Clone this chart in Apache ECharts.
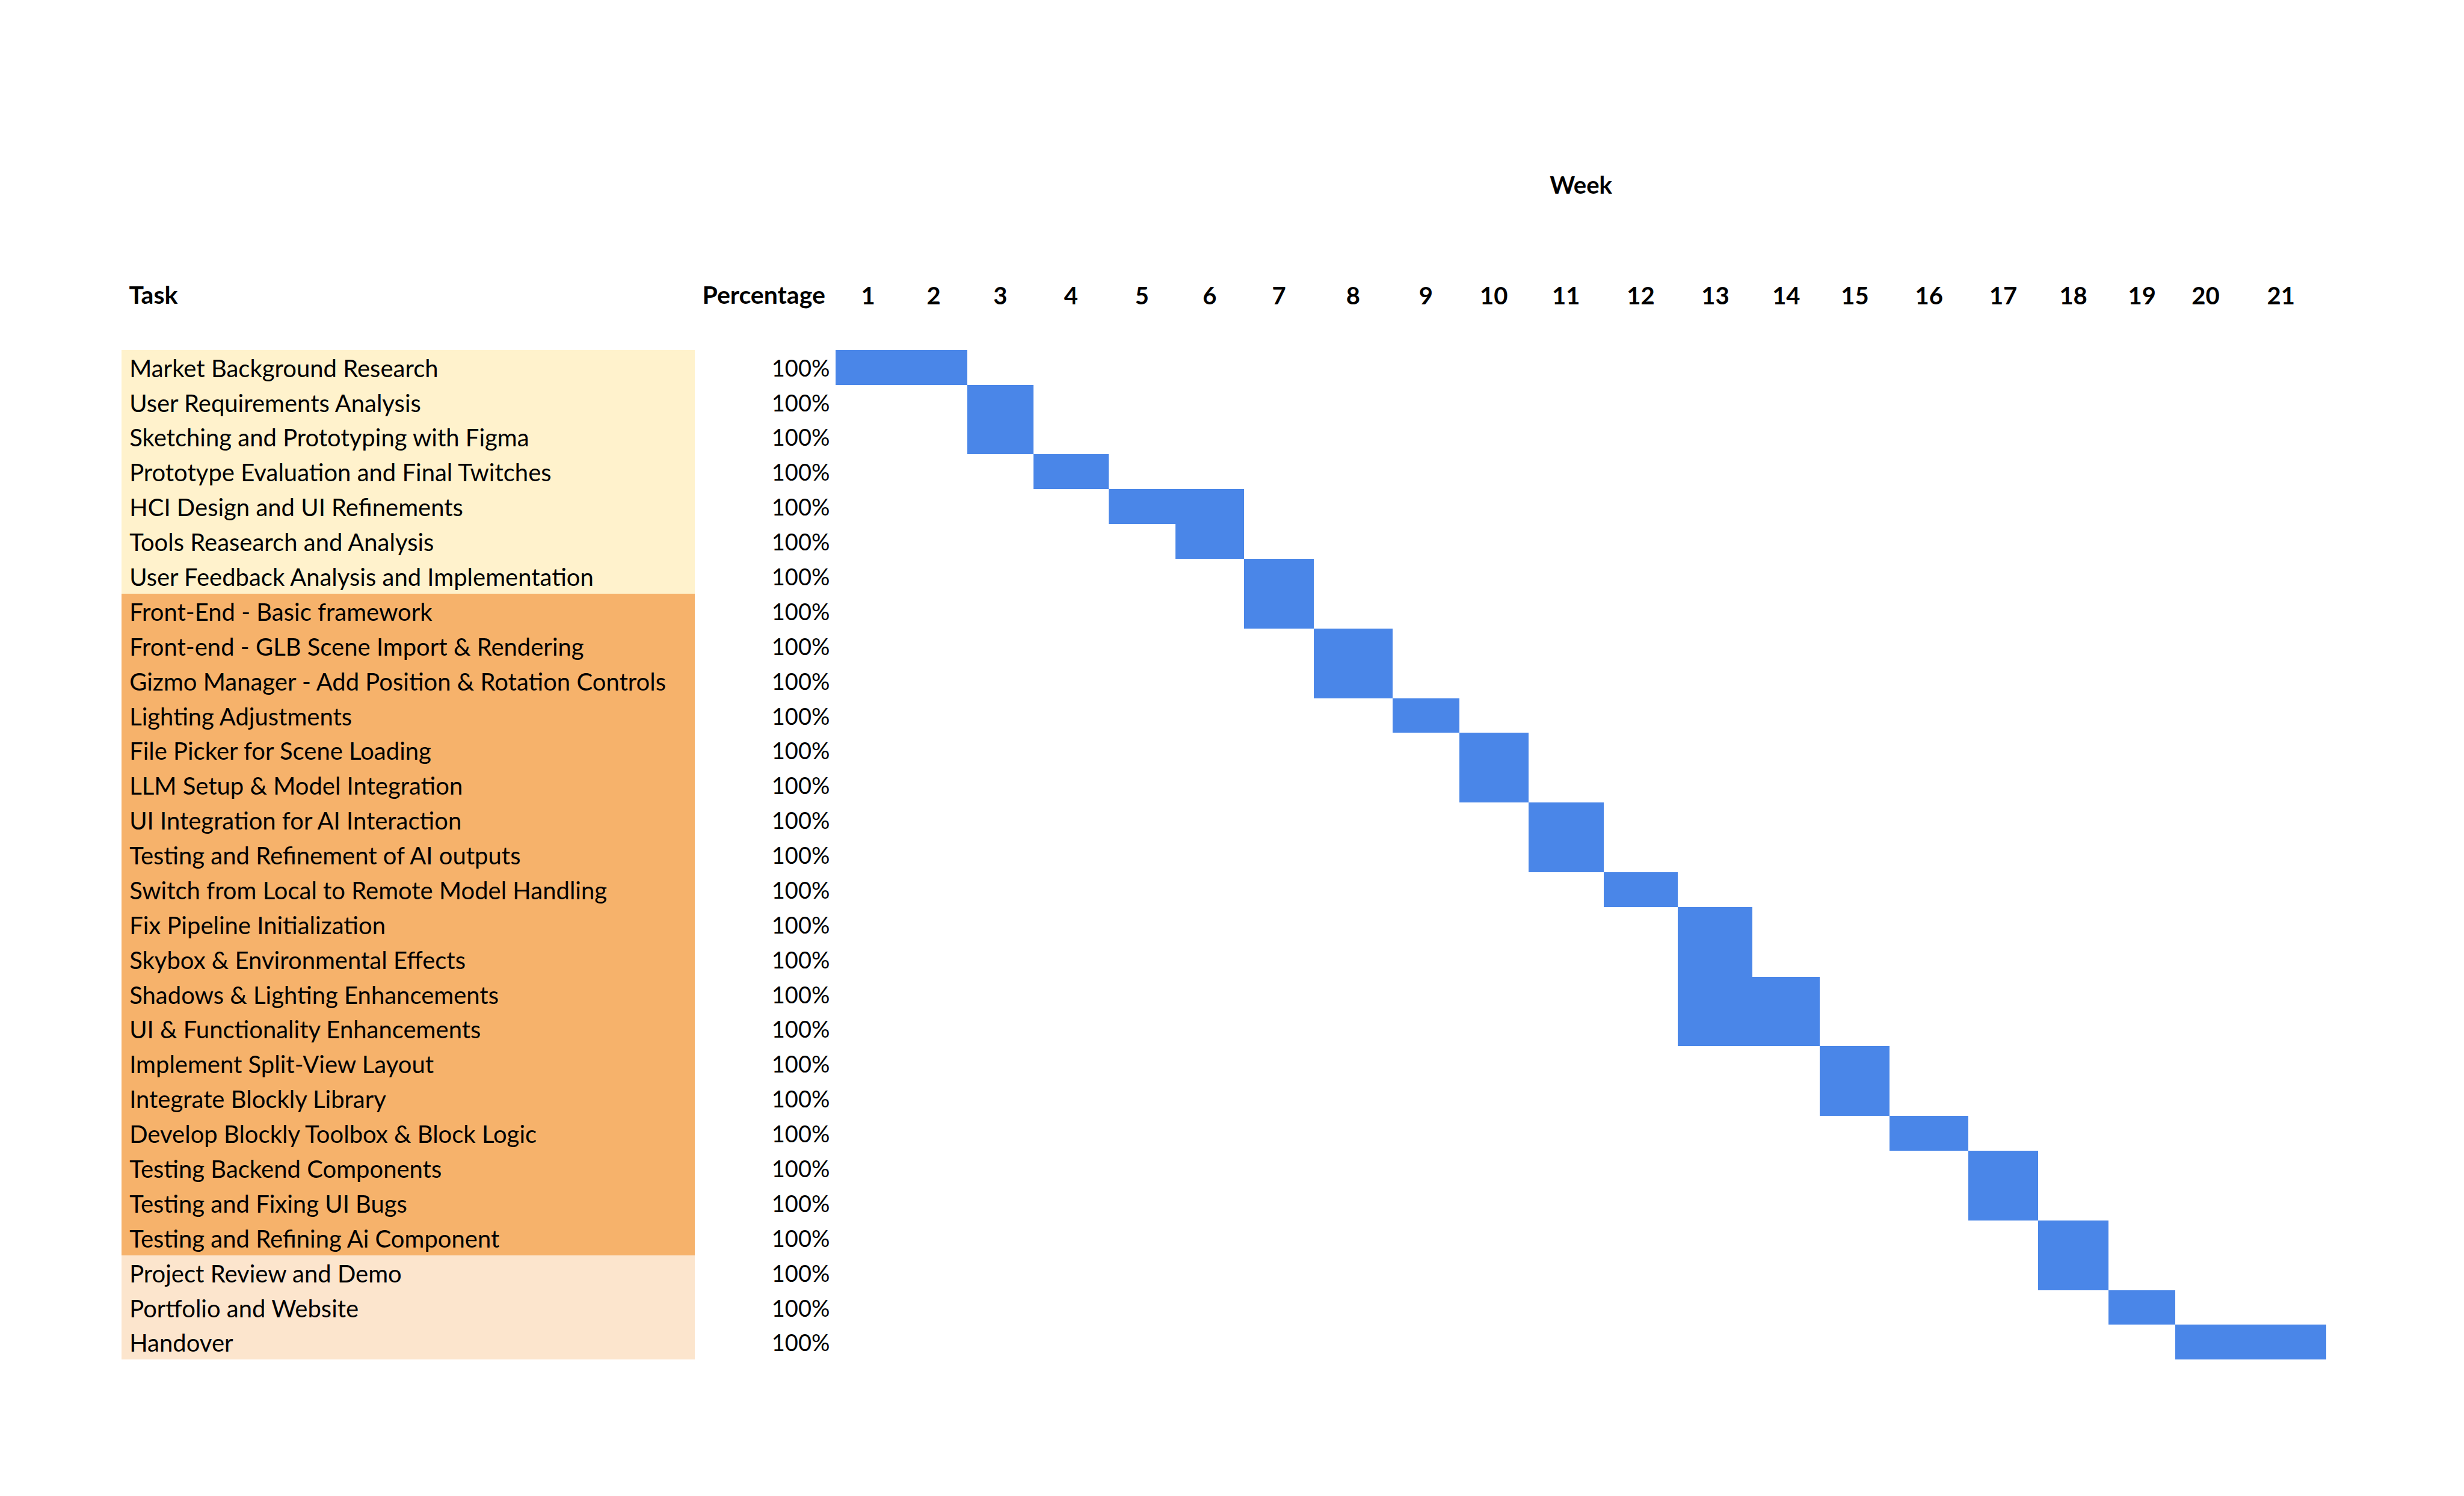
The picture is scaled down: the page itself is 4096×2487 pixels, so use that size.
<!DOCTYPE html>
<html>
<head>
<meta charset="utf-8">
<script src="https://cdn.jsdelivr.net/npm/echarts@6/dist/echarts.min.js"></script>
<style>
html, body { margin: 0; padding: 0; background: #ffffff; }
#chart { width: 4096px; height: 2487px; }
</style>
</head>
<body>
<div id="chart"></div>
<script>
// ---------- data ----------
const tasks = [
  'Market Background Research',
  'User Requirements Analysis',
  'Sketching and Prototyping with Figma',
  'Prototype Evaluation and Final Twitches',
  'HCI Design and UI Refinements',
  'Tools Reasearch and Analysis',
  'User Feedback Analysis and Implementation',
  'Front-End - Basic framework',
  'Front-end - GLB Scene Import & Rendering',
  'Gizmo Manager - Add Position & Rotation Controls',
  'Lighting Adjustments',
  'File Picker for Scene Loading',
  'LLM Setup & Model Integration',
  'UI Integration for AI Interaction',
  'Testing and Refinement of AI outputs',
  'Switch from Local to Remote Model Handling',
  'Fix Pipeline Initialization',
  'Skybox & Environmental Effects',
  'Shadows & Lighting Enhancements',
  'UI & Functionality Enhancements',
  'Implement Split-View Layout',
  'Integrate Blockly Library',
  'Develop Blockly Toolbox & Block Logic',
  'Testing Backend Components',
  'Testing and Fixing UI Bugs',
  'Testing and Refining Ai Component',
  'Project Review and Demo',
  'Portfolio and Website',
  'Handover'
];
const percentages = [100,100,100,100,100,100,100,100,100,100,100,100,100,100,100,100,100,100,100,100,100,100,100,100,100,100,100,100,100];
const startWeek = [1,3,3,4,5,6,7,7,8,8,9,10,10,11,11,12,13,13,13,13,15,15,16,17,17,18,18,19,20];
const endWeek   = [2,3,3,4,6,6,7,7,8,8,9,10,10,11,11,12,13,13,14,14,15,15,16,17,17,18,18,19,21];
const taskPhase = [0,0,0,0,0,0,0,1,1,1,1,1,1,1,1,1,1,1,1,1,1,1,1,1,1,1,2,2,2];
const weekLabels = ['1','2','3','4','5','6','7','8','9','10','11','12','13','14','15','16','17','18','19','20','21'];

// ---------- layout / style ----------
const S = 0.975;
const weekColumnWidths = [110,114,113,128,114,117,119,134,114,118,128,127,127,115,119,134,119,120,114,103,154];
const phaseColors = ['#FFF2CC', '#F6B26B', '#FCE5CD'];
const barColor = '#4A86E8';
const FONT = 'Lato';
const FS_TASK = 40;
const FS_PCT = 38;
const FS_HEAD = 40;

const edges = [0];
weekColumnWidths.forEach(w => edges.push(edges[edges.length - 1] + w));
const totalWidth = edges[edges.length - 1];
const centers = weekColumnWidths.map((w, i) => edges[i] + w / 2);

const tableTop = 596.7 * S;
const tableHeight = (2318.3 - 596.7) * S;

const chart = echarts.init(document.getElementById('chart'), null, { renderer: 'svg' });

const option = {
  backgroundColor: '#ffffff',
  animation: false,
  title: [
    {
      text: 'Task', left: 220 * S, top: 469, padding: 0,
      textStyle: { fontFamily: FONT, fontWeight: 'bold', fontSize: 41, color: '#000' }
    },
    {
      text: 'Percentage', right: 4096 - 1407 * S, top: 469, padding: 0,
      textStyle: { fontFamily: FONT, fontWeight: 'bold', fontSize: 41, color: '#000' }
    }
  ],
  grid: [
    { left: 1425 * S, top: tableTop, width: totalWidth * S, height: tableHeight, containLabel: false },
    { left: 206.7 * S, top: tableTop, width: (1185 - 206.7) * S, height: tableHeight, containLabel: false }
  ],
  xAxis: [
    {
      type: 'value', gridIndex: 0, position: 'top', min: 0, max: totalWidth,
      axisLine: { show: false }, axisTick: { show: false }, splitLine: { show: false },
      axisLabel: {
        customValues: centers,
        formatter: function (v) {
          let best = 0, bd = Infinity;
          centers.forEach((c, i) => { const d = Math.abs(c - v); if (d < bd) { bd = d; best = i; } });
          return weekLabels[best];
        },
        fontFamily: FONT, fontWeight: 'bold', fontSize: FS_HEAD, color: '#000', margin: 71
      },
      name: 'Week', nameLocation: 'middle', nameGap: 255,
      nameTextStyle: { fontFamily: FONT, fontWeight: 'bold', fontSize: FS_HEAD, color: '#000' }
    },
    {
      type: 'value', gridIndex: 1, min: 0, max: 1, show: false
    }
  ],
  yAxis: [
    {
      type: 'category', gridIndex: 0, data: tasks, inverse: true,
      axisLine: { show: false }, axisTick: { show: false }, splitLine: { show: false },
      axisLabel: {
        formatter: function (v, i) { return percentages[i] + '%'; },
        fontFamily: FONT, fontSize: FS_PCT, color: '#000', margin: 10, padding: [8, 0, 0, 0]
      }
    },
    {
      type: 'category', gridIndex: 1, data: tasks, inverse: true, show: false
    }
  ],
  series: [
    {
      name: 'Task',
      type: 'custom', xAxisIndex: 1, yAxisIndex: 1,
      encode: { x: 1, y: 0 },
      data: tasks.map((t, i) => [i, 1, taskPhase[i]]),
      silent: true,
      renderItem: function (params, api) {
        const row = api.value(0);
        const pL = api.coord([0, row]);
        const pR = api.coord([api.value(1), row]);
        const h = api.size([0, 1])[1];
        const x0 = Math.round(pL[0]), x1 = Math.round(pR[0]);
        const y0 = Math.round(pL[1] - h / 2), y1 = Math.round(pL[1] + h / 2);
        return {
          type: 'group',
          children: [
            {
              type: 'rect',
              shape: { x: x0, y: y0, width: x1 - x0, height: y1 - y0 },
              style: { fill: phaseColors[api.value(2)] }
            },
            {
              type: 'text',
              style: {
                text: tasks[params.dataIndex],
                x: pL[0] + 14 * S, y: pL[1] + 1,
                verticalAlign: 'middle', align: 'left',
                fontFamily: FONT, fontSize: FS_TASK, fill: '#000'
              }
            }
          ]
        };
      }
    },
    {
      name: 'Schedule',
      type: 'custom', xAxisIndex: 0, yAxisIndex: 0,
      encode: { x: [1, 2], y: 0 },
      data: tasks.map((t, i) => [i, startWeek[i], endWeek[i]]),
      renderItem: function (params, api) {
        const row = api.value(0);
        const p0 = api.coord([edges[api.value(1) - 1], row]);
        const p1 = api.coord([edges[api.value(2)], row]);
        const h = api.size([0, 1])[1];
        const x0 = Math.round(p0[0]), x1 = Math.round(p1[0]);
        const y0 = Math.round(p0[1] - h / 2), y1 = Math.round(p0[1] + h / 2);
        return {
          type: 'rect',
          shape: { x: x0, y: y0, width: x1 - x0, height: y1 - y0 },
          style: { fill: barColor }
        };
      }
    }
  ]
};
chart.setOption(option);
</script>
</body>
</html>
